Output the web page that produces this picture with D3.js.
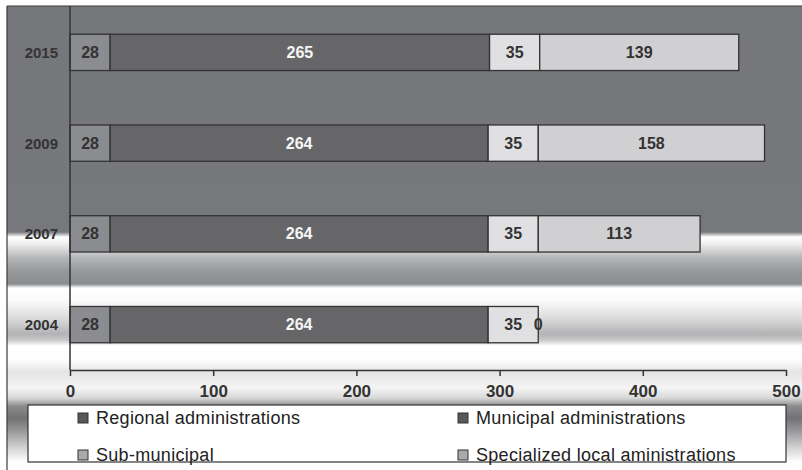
<!DOCTYPE html>
<html>
<head>
<meta charset="utf-8">
<script src="https://cdn.jsdelivr.net/npm/d3@7/dist/d3.min.js"></script>
<style>
html,body{margin:0;padding:0;background:#fff;}
svg{display:block;font-family:"Liberation Sans",Arial,sans-serif;}
</style>
</head>
<body>
<svg id="chart" width="802" height="470"></svg>
<script>
const years = ["2015", "2009", "2007", "2004"];
const seriesNames = ["Regional administrations", "Municipal administrations", "Sub-municipal", "Specialized local aministrations"];
const regional = [28, 28, 28, 28];
const municipal = [265, 264, 264, 264];
const subMunicipal = [35, 35, 35, 35];
const specialized = [139, 158, 113, 0];
const xTicks = [0, 100, 200, 300, 400, 500];
const barColors = ["#8b8c90", "#666668", "#e0e0e2", "#d0d0d2"];
const labelColors = ["#333333", "#f6f6f6", "#333333", "#333333"];
const legendSwatch = ["#58585a", "#58585a", "#aaaaac", "#aaaaac"];

const svg = d3.select("#chart");
const W = 802, H = 470;
const frame = {x0: 7, y0: 6};
const plot = {x0: 70, x1: 786, y0: 7, y1: 370};

// Background gradient
const defs = svg.append("defs");
const grad = defs.append("linearGradient").attr("id", "bg")
  .attr("gradientUnits", "userSpaceOnUse")
  .attr("x1", 0).attr("y1", frame.y0).attr("x2", 0).attr("y2", H);
const stops = [
  [6, "#76777b"], [232, "#77787c"], [237, "#ffffff"], [244, "#eeeeee"],
  [258, "#b4b5b7"], [272, "#959698"], [284, "#8c8d90"], [288, "#ffffff"],
  [300, "#fbfbfb"], [318, "#dcdcdd"], [334, "#b3b3b5"], [340, "#c8c8ca"],
  [346, "#ffffff"], [360, "#fdfdfd"], [372, "#e4e4e5"], [388, "#f4f4f4"],
  [398, "#d8d8d9"], [406, "#8c8c8e"], [418, "#727274"], [430, "#959597"],
  [444, "#c6c6c7"], [456, "#ececec"], [462, "#ffffff"], [470, "#ffffff"]
];
stops.forEach(s => grad.append("stop").attr("offset", (s[0] - frame.y0) / (H - frame.y0)).attr("stop-color", s[1]));

svg.append("rect").attr("x", frame.x0).attr("y", frame.y0)
  .attr("width", W - frame.x0).attr("height", H - frame.y0).attr("fill", "url(#bg)");
svg.append("line").attr("x1", frame.x0).attr("x2", frame.x0).attr("y1", frame.y0).attr("y2", H)
  .attr("stroke", "#3a3a3a").attr("stroke-width", 1.2);
svg.append("line").attr("x1", frame.x0).attr("x2", W).attr("y1", frame.y0).attr("y2", frame.y0)
  .attr("stroke", "#3a3a3a").attr("stroke-width", 1.2);

const x = d3.scaleLinear().domain([0, 500]).range([plot.x0, plot.x1]);
const y = d3.scaleBand().domain(years).range([plot.y0, plot.y1]).paddingInner(0.6).paddingOuter(0.3);

// Stacked data
const table = years.map((yr, i) => ({year: yr, s0: regional[i], s1: municipal[i], s2: subMunicipal[i], s3: specialized[i]}));
const stack = d3.stack().keys(["s0", "s1", "s2", "s3"])(table);

const g = svg.append("g");
stack.forEach((layer, li) => {
  layer.forEach(d => {
    const yr = d.data.year;
    const xa = x(d[0]), xb = x(d[1]);
    g.append("rect").attr("x", xa).attr("y", y(yr)).attr("width", xb - xa).attr("height", y.bandwidth())
      .attr("fill", barColors[li]).attr("stroke", "#333").attr("stroke-width", 1.3);
  });
});
stack.forEach((layer, li) => {
  layer.forEach(d => {
    const yr = d.data.year;
    g.append("text").attr("x", (x(d[0]) + x(d[1])) / 2).attr("y", y(yr) + y.bandwidth() / 2)
      .attr("text-anchor", "middle").attr("dominant-baseline", "central")
      .attr("font-size", 16).attr("font-weight", "bold").attr("fill", labelColors[li])
      .text(d[1] - d[0]);
  });
});

// Category labels
years.forEach(yr => {
  svg.append("text").attr("x", 58).attr("y", y(yr) + y.bandwidth() / 2)
    .attr("text-anchor", "end").attr("dominant-baseline", "central")
    .attr("font-size", 15).attr("font-weight", "bold").attr("fill", "#333").text(yr);
});

// Left axis line
svg.append("line").attr("x1", plot.x0).attr("x2", plot.x0).attr("y1", frame.y0).attr("y2", plot.y1)
  .attr("stroke", "#333").attr("stroke-width", 1.5);

// X axis
const xAxis = svg.append("g").attr("transform", `translate(0,${plot.y1})`)
  .call(d3.axisBottom(x).tickValues(xTicks).tickSize(6).tickPadding(9).tickSizeOuter(0));
xAxis.select(".domain").attr("stroke", "#333").attr("stroke-width", 1.5);
xAxis.selectAll(".tick line").attr("stroke", "#333").attr("stroke-width", 1.5);
xAxis.selectAll(".tick text").attr("font-size", 17).attr("font-weight", "bold").attr("fill", "#333")
  .attr("font-family", "\"Liberation Sans\",Arial,sans-serif");

// Legend
const lg = svg.append("g");
lg.append("rect").attr("x", 28).attr("y", 405).attr("width", 758).attr("height", 57)
  .attr("fill", "#fff").attr("stroke", "#333").attr("stroke-width", 1.2);
const legPos = [[78, 413], [458, 413], [78, 450], [458, 450]];
seriesNames.forEach((name, i) => {
  const [lx, ly] = legPos[i];
  lg.append("rect").attr("x", lx).attr("y", ly).attr("width", 10).attr("height", 10)
    .attr("fill", legendSwatch[i]).attr("stroke", "#333").attr("stroke-width", 1);
  lg.append("text").attr("x", lx + 18).attr("y", ly + 10.5)
    .attr("font-size", 18).attr("fill", "#222").attr("letter-spacing", 0.3).text(name);
});
</script>
</body>
</html>
